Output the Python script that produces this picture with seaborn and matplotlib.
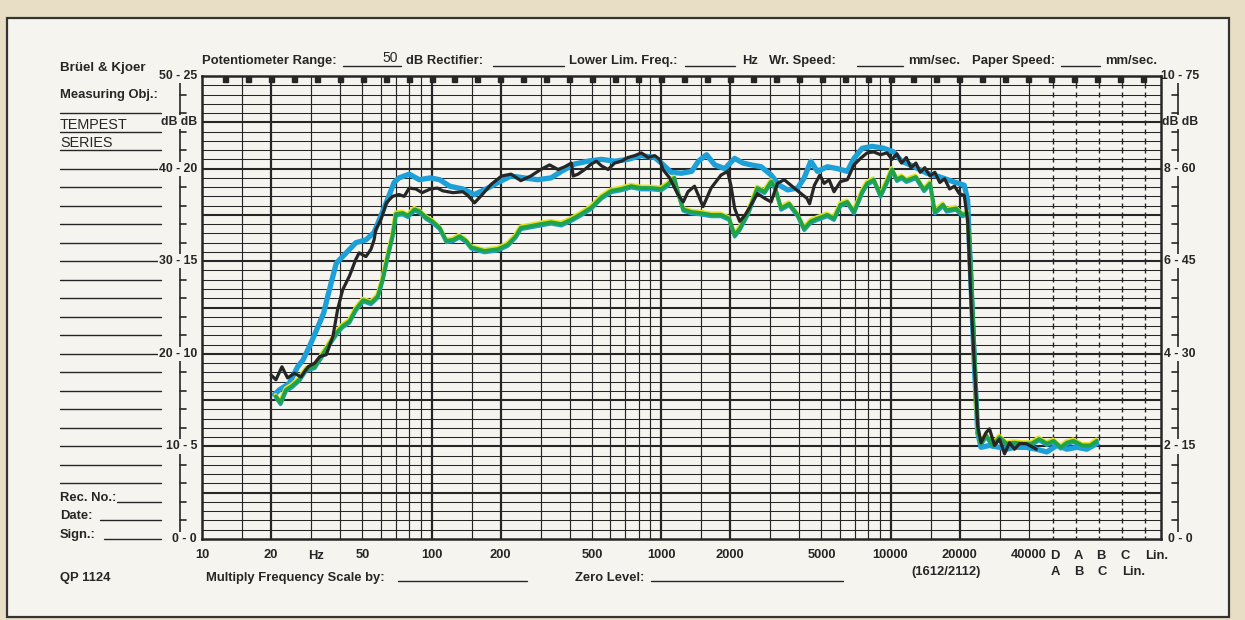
import numpy as np
import pandas as pd
import matplotlib
matplotlib.use("Agg")
import matplotlib.pyplot as plt
import matplotlib.patheffects as pe
from matplotlib.patches import Rectangle
from matplotlib.ticker import NullLocator
import seaborn as sns

blue_freq = [20.7, 21.7, 24.0, 26.1, 27.5, 29.4, 31.6, 33.9, 35.3, 37.2, 38.5, 42.5, 46.8, 51.8,
             56.2, 60.2, 64.4, 68.7, 72.2, 80.0, 88.5, 98.9, 108.6, 120, 137, 154, 176, 195, 222,
             253, 290, 332, 368, 421, 480, 550, 628, 718, 821, 939, 1003, 1107, 1228, 1360, 1456,
             1579, 1715, 1895, 2094, 2275, 2472, 2732, 3020, 3279, 3563, 3938, 4207, 4495, 4802,
             5308, 5867, 6484, 6931, 7532, 8325, 9346, 10330, 11170, 12700, 14400, 16400, 18700,
             20960, 21680, 22420, 23200, 23990, 24800, 27000, 29860, 32000, 34700, 39000, 43200,
             48000, 53100, 58700, 64900, 71700, 79300]
blue_db = [15.6, 16.1, 16.8, 18.6, 19.3, 20.8, 22.6, 24.4, 26.2, 28.4, 29.8, 30.9, 32.0, 32.3,
           33.1, 34.9, 36.7, 38.5, 39.0, 39.4, 38.8, 39.0, 38.8, 38.1, 37.8, 37.2, 37.9, 38.5, 39.2,
           39.0, 38.8, 39.0, 39.7, 40.5, 40.8, 41.0, 40.8, 41.0, 41.4, 41.2, 40.6, 39.6, 39.5, 39.7, 40.8,
           41.5, 40.4, 40.0, 41.1, 40.6, 40.4, 40.2, 39.3, 38.2, 37.7, 37.9, 39.0, 40.8, 39.7,
           40.2, 40.0, 39.7, 41.1, 42.2, 42.4, 42.2, 41.8, 40.8, 40.2, 39.5, 39.1, 38.6,
           38.2, 36.6, 27.6, 18.7, 11.5, 9.9, 10.1, 9.9, 9.7, 9.9, 9.9, 9.7,
           9.4, 10.1, 9.7, 9.9, 9.7, 10.3]

green_freq = [21, 22, 23.2, 24.6, 26.5, 28.4, 31, 33.9, 36.2, 39, 41, 43.9, 46.8, 50.4, 54.5, 58.3,
              61.2, 64.4, 67.6, 70, 75, 78.9, 84.4, 88.5, 94.9, 101, 108.6, 116, 124, 132.5, 141.5,
              149, 170, 195, 215, 233, 245, 271, 299, 332, 368, 407, 449, 497, 550, 608, 672, 742,
              821, 908, 1003, 1072, 1143, 1185, 1250, 1360, 1485, 1653, 1826, 1982, 2094, 2202,
              2396, 2632, 2826, 3020, 3150, 3335, 3620, 3938, 4207, 4495, 4802, 5308, 5673, 6055,
              6484, 6931, 7532, 7910, 8450, 9050, 9660, 10150, 10660, 11200, 11720, 12900, 14000,
              14880, 15600, 16950, 17540, 19300, 20600, 21680, 22420, 23200, 23990, 24800, 26100,
              27900, 29860, 32000, 34700, 37700, 41200, 44400, 48000, 51400, 55200, 58700, 62800,
              68600, 74200, 79300]
green_db = [15.4, 14.7, 16.1, 16.5, 17.2, 18.3, 18.6, 20.1, 21.2, 22.4, 23.0, 23.5, 24.8, 25.8, 25.5, 26.2,
            28.0, 30.5, 32.7, 35.1, 35.2, 34.9, 35.6, 35.4, 34.7, 34.3, 33.6, 32.2, 32.3, 32.7, 32.2,
            31.5, 31.1, 31.3, 31.8, 32.7, 33.6, 33.8, 34.0, 34.2, 34.0, 34.5, 35.1, 35.8, 36.9, 37.6, 37.8, 38.1,
            37.9, 37.9, 37.8, 38.3, 39.0, 37.5, 35.6, 35.3, 35.2, 35.0, 35.0, 34.6, 32.8, 33.5,
            35.2, 37.9, 37.5, 38.6, 37.9, 35.7, 36.2, 35.0, 33.5, 34.3, 34.6, 35.0, 34.6, 36.1,
            36.4, 35.3, 37.5, 38.4, 38.8, 37.1, 38.6, 39.9, 38.8, 39.1, 38.7, 39.1, 37.7,
            38.4, 35.3, 36.1, 35.5, 35.7, 35.0, 35.2, 29.4, 20.5, 11.5, 10.3, 11.2,
            10.1, 11.0, 10.3, 10.4, 10.3, 10.3, 10.8, 10.3, 10.6, 9.9, 10.4, 10.6,
            10.1, 10.1, 10.6]

black_freq = [20, 21, 22.3, 23.6, 25.3, 27.0, 29.0, 31, 32.6, 34.8, 37.2, 39.0, 41, 43.9, 46.8, 48.4,
              51.8, 54.5, 56.2, 57.2, 60.2, 63.6, 67.6, 72.2, 76, 80, 85.5, 91, 98.9, 106, 112, 124,
              137, 144, 154, 165, 182, 202, 222, 245, 271, 299, 327, 356, 381, 407, 414, 435, 465,
              497, 523, 550, 588, 628, 672, 718, 768, 821, 878, 939, 987, 1020, 1090, 1185, 1250,
              1311, 1400, 1525, 1653, 1826, 1950, 2016, 2094, 2202, 2326, 2472, 2632, 2826, 3020,
              3215, 3443, 3805, 4073, 4320, 4440, 4659, 4922, 5139, 5400, 5673, 6055, 6484, 6931,
              7400, 7910, 8450, 9050, 9660, 10150, 10660, 11170, 11720, 12300, 12900, 13480, 14100,
              14880, 15600, 16400, 17200, 18100, 19000, 19950, 20960, 21680, 22420, 23200, 23990,
              24800, 26100, 27000, 28400, 29860, 31400, 33000, 34700, 36500, 39000, 43200]
black_db = [17.7, 17.2, 18.6, 17.4, 17.9, 17.5, 18.6, 19.0, 19.7, 19.9, 21.9, 24.8, 26.9, 28.4, 30.2, 30.9,
            30.5, 31.3, 32.3, 33.4, 34.5, 36.3, 37.0, 37.2, 37.0, 37.9, 37.8, 37.4, 37.8, 37.9, 37.6, 37.4,
            37.5, 37.1, 36.3, 37.1, 38.3, 39.2, 39.4, 38.7, 39.2, 39.9, 40.4, 39.9, 40.2, 40.6, 39.2, 39.4, 39.9,
            40.5, 40.8, 40.3, 39.9, 40.6, 40.8, 41.2, 41.4, 41.7, 41.2, 41.4, 41.0, 39.9, 39.0, 37.2, 36.4,
            37.5, 38.1, 35.9, 37.9, 39.3, 39.7, 38.2, 35.7, 34.3, 35.0, 36.1, 37.3, 36.8, 36.4,
            38.4, 38.8, 37.9, 37.3, 36.8, 36.2, 38.2, 39.3, 38.4, 38.8, 37.5, 38.6, 38.8, 40.4,
            41.1, 41.7, 41.8, 41.5, 41.7, 41.0, 41.6, 40.6, 41.2, 40.1, 40.6, 39.6, 40.1,
            39.2, 39.6, 38.5, 38.9, 37.8, 38.1, 37.3, 37.1, 34.4, 25.8, 18.7, 12.2,
            10.4, 11.5, 11.9, 10.1, 10.8, 9.2, 10.4, 9.7, 10.3, 10.3, 9.7]

# paper scale labels
freq_ticks = [10, 20, 50, 100, 200, 500, 1000, 2000, 5000, 10000, 20000, 40000]
freq_labels = ["10", "20", "50", "100", "200", "500", "1000", "2000", "5000", "10000", "20000", "40000"]
filter_pos = [51000, 64200, 80800, 101700, 128000]
filter_top = ["D", "A", "B", "C", "Lin."]
filter_bottom = ["A", "B", "C", "Lin."]
scale_db = [0, 10, 20, 30, 40, 50]
left_labels = ["0 - 0", "10 - 5", "20 - 10", "30 - 15", "40 - 20", "50 - 25"]
right_labels = ["0 - 0", "2 - 15", "4 - 30", "6 - 45", "8 - 60", "10 - 75"]

sns.set_theme(style="white")
plt.rcParams["font.family"] = ["Liberation Sans", "DejaVu Sans"]

BEIGE = "#e8dec5"
PAPER = "#f5f4ef"
INK = "#262626"
BLUE = "#1d9fd7"
GREEN = "#1fa34a"
YELLOW = "#e6e21d"

W, H = 1245, 620
L, R, T, B = 202, 1161, 76, 539   # plot frame in pixels
DEC = 229.5                        # pixels per decade


def py(db):
    return B - db * (B - T) / 50.0


fig = plt.figure(figsize=(W / 100, H / 100), dpi=100, facecolor=BEIGE)
bg = fig.add_axes([0, 0, 1, 1])
bg.set_xlim(0, W)
bg.set_ylim(H, 0)
bg.axis("off")
bg.add_patch(Rectangle((7, 18), 1222, 599, fc=PAPER, ec="#333333", lw=1.6))

ax = fig.add_axes([L / W, 1 - B / H, (R - L) / W, (B - T) / H])
ax.set_xscale("log")
ax.set_xlim(10, 10 ** (1 + (R - L) / DEC))
ax.set_ylim(0, 50)
ax.set_facecolor(PAPER)

# chart paper grid
for db in range(1, 50):
    ax.axhline(db, color=INK, lw=1.5 if db % 5 == 0 else 0.75, zorder=1)
for dec in [10, 100, 1000, 10000]:
    for m in [1, 1.5, 2, 3, 4, 5, 6, 7, 8, 9]:
        f = dec * m
        if 10 < f <= 40000:
            ax.axvline(f, color=INK, lw=1.6 if m in (1, 2) else 0.85, zorder=1)
marks = np.arange(0, 51)
for f in filter_pos:
    ax.vlines(np.full(marks.size, f), np.clip(marks - 0.3, 0, 50), np.clip(marks + 0.3, 0, 50),
              color=INK, lw=1.0, zorder=1)
sq = 10 ** (1.3 + 0.1 * np.arange(-2, 39))
ax.plot(sq, np.full(sq.size, 49.72), ls="none", marker="s", ms=3.6, color=INK, zorder=2)

# the three pen traces
traces = pd.concat([
    pd.DataFrame({"freq": blue_freq, "level": blue_db, "trace": "blue"}),
    pd.DataFrame({"freq": green_freq, "level": green_db, "trace": "green"}),
    pd.DataFrame({"freq": black_freq, "level": black_db, "trace": "black"}),
], ignore_index=True)
styles = {
    "blue": dict(color=BLUE, linewidth=3.8, zorder=3),
    "green": dict(color=GREEN, linewidth=2.8, zorder=4,
                  path_effects=[pe.Stroke(offset=(0, -1.1), linewidth=2.6, foreground=BLUE),
                                pe.Stroke(offset=(-0.4, 1.2), linewidth=2.6, foreground=YELLOW),
                                pe.Normal()]),
    "black": dict(color=INK, linewidth=2.3, zorder=5),
}
for name, kw in styles.items():
    sns.lineplot(data=traces[traces["trace"] == name], x="freq", y="level", sort=False,
                 estimator=None, ax=ax, solid_joinstyle="round", solid_capstyle="round", **kw)

ax.set_xlabel("")
ax.set_ylabel("")
ax.set_yticks([])
ax.xaxis.set_minor_locator(NullLocator())
ax.set_xticks(freq_ticks, freq_labels, fontweight="bold")
ax.tick_params(axis="x", length=0, pad=7, labelsize=9.3, labelcolor=INK)
ax.grid(False)
for s in ax.spines.values():
    s.set_visible(True)
    s.set_color(INK)
    s.set_linewidth(1.8)

txt = dict(color=INK, fontsize=9.4, fontweight="bold", va="center")
sc = dict(color=INK, fontsize=8.8, fontweight="bold", va="center")
box = dict(fc=PAPER, ec="none", pad=0.8)

# left dB scale
bg.plot([180, 180], [py(0), py(50)], color=INK, lw=1.2)
for db in range(2, 50, 2):
    if db % 10:
        bg.plot([180, 186], [py(db), py(db)], color=INK, lw=1.2)
for db, lab in zip(scale_db, left_labels):
    bg.text(197, py(db), lab, ha="right", bbox=box, **sc)
bg.text(197, py(45), "dB dB", ha="right", bbox=box, **sc)

# right dB scale
bg.plot([1178, 1178], [py(0), py(50)], color=INK, lw=1.2)
for db in range(2, 50, 2):
    if db % 10:
        bg.plot([1172, 1178], [py(db), py(db)], color=INK, lw=1.2)
for db, lab in zip(scale_db, right_labels):
    bg.text(1180, py(db), lab, ha="center", bbox=box, **sc)
bg.text(1180, py(45), "dB dB", ha="center", bbox=box, **sc)

# left form
bg.text(60, 68, "Brüel & Kjoer", **{**txt, "fontsize": 9.6})
bg.text(60, 95, "Measuring Obj.:", **txt)
starts = {21: 117, 22: 100, 23: 104}
for k in range(24):
    y = py(46 - 2 * k)
    bg.plot([starts.get(k, 60), 161], [y, y], color=INK, lw=1.0)
bg.text(60, py(44) - 7, "TEMPEST", color=INK, fontsize=10.4, va="center")
bg.text(60, py(42) - 7, "SERIES", color=INK, fontsize=10.4, va="center")
bg.text(60, py(4) - 4, "Rec. No.:", **txt)
bg.text(60, py(2) - 4, "Date:", **txt)
bg.text(60, py(0) - 4, "Sign.:", **txt)

# header
hy = 61
for x, s in [(202, "Potentiometer Range:"), (406, "dB Rectifier:"), (569, "Lower Lim. Freq.:"),
             (742, "Hz"), (769, "Wr. Speed:"), (908, "mm/sec."), (972, "Paper Speed:"),
             (1105, "mm/sec.")]:
    bg.text(x, hy, s, ha="left", **txt)
for x0, x1 in [(343, 401), (493, 564), (685, 735), (857, 903), (1061, 1100)]:
    bg.plot([x0, x1], [hy + 5, hy + 5], color=INK, lw=1.0)
bg.text(390, hy - 3, "50", color=INK, fontsize=10, ha="center", va="center")

# footer
bg.text(316, 556, "Hz", ha="center", **txt)
for x, s in zip([1055, 1078, 1101, 1125, 1157], filter_top):
    bg.text(x, 556, s, ha="center", **txt)
for x, s in zip([1055, 1079, 1102, 1134], filter_bottom):
    bg.text(x, 572, s, ha="center", **txt)
bg.text(946, 572, "(1612/2112)", ha="center", **txt)
bg.text(60, 578, "QP 1124", ha="left", **txt)
bg.text(206, 578, "Multiply Frequency Scale by:", ha="left", **txt)
bg.plot([398, 527], [581, 581], color=INK, lw=1.0)
bg.text(575, 578, "Zero Level:", ha="left", **txt)
bg.plot([651, 843], [581, 581], color=INK, lw=1.0)

fig.savefig("out.png", dpi=100, facecolor=BEIGE)
